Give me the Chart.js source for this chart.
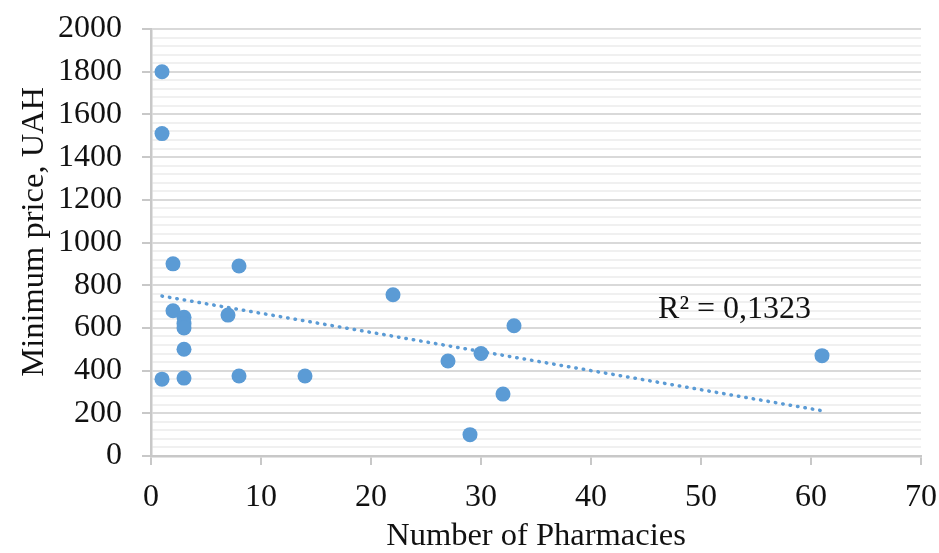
<!DOCTYPE html>
<html>
<head>
<meta charset="utf-8">
<script src="https://cdn.jsdelivr.net/npm/chart.js@4.4.0/dist/chart.umd.min.js"></script>
<style>
  html, body { margin: 0; padding: 0; background: #fff; }
  #grafico { display: block; }
</style>
</head>
<body>
<canvas id="grafico" width="939" height="553"></canvas>
<script>
// Datos: farmacias vs precio minimo
const farmacias = [1, 1, 1, 2, 2, 3, 3, 3, 3, 3, 7, 8, 8, 14, 22, 27, 29, 30, 32, 33, 61];
const precios = [1800, 1510, 360, 900, 680, 650, 620, 600, 500, 365, 660, 890, 375, 375, 755, 445, 100, 480, 290, 610, 470];

// Linea de tendencia (extremos)
const tendenciaX = [1, 61];
const tendenciaY = [749, 212];
const textoR2 = "R\u00B2 = 0,1323";
const tituloY = "Minimum price, UAH";

const ticksX = [0, 10, 20, 30, 40, 50, 60, 70];
const ticksY = [0, 200, 400, 600, 800, 1000, 1200, 1400, 1600, 1800, 2000];

const AZUL = '#5B9BD5';
const FUENTE = 'Liberation Serif, "Times New Roman", serif';

const puntos = farmacias.map((x, i) => ({ x: x, y: precios[i] }));
const tendencia = tendenciaX.map((x, i) => ({ x: x, y: tendenciaY[i] }));

// Etiqueta R² y titulo del eje Y
const textosExtra = {
  id: 'textosExtra',
  afterDatasetsDraw(chart) {
    const ctx = chart.ctx;
    const px = chart.scales.x.getPixelForValue(46.1);
    const py = chart.scales.y.getPixelForValue(646);
    ctx.save();
    ctx.font = '32px ' + FUENTE;
    ctx.fillStyle = '#111';
    ctx.textAlign = 'left';
    ctx.textBaseline = 'alphabetic';
    ctx.fillText(textoR2, px, py);
    ctx.restore();

    // titulo vertical, algo por encima del centro como en el original
    ctx.save();
    ctx.font = '32.5px ' + FUENTE;
    ctx.fillStyle = '#111';
    ctx.translate(34, chart.scales.y.getPixelForValue(1050));
    ctx.rotate(-Math.PI / 2);
    ctx.textAlign = 'center';
    ctx.textBaseline = 'middle';
    ctx.fillText(tituloY, 0, 0);
    ctx.restore();
  }
};

const ctx = document.getElementById('grafico').getContext('2d');

const chart = new Chart(ctx, {
  type: 'scatter',
  data: {
    datasets: [
      {
        label: 'Tendencia',
        data: tendencia,
        showLine: true,
        borderColor: AZUL,
        borderWidth: 3.5,
        borderDash: [0.5, 7],
        borderCapStyle: 'round',
        pointRadius: 0,
        fill: false,
        order: 0
      },
      {
        label: 'Precio minimo',
        data: puntos,
        backgroundColor: AZUL,
        borderWidth: 0,
        pointRadius: 7.5,
        pointHoverRadius: 7.5,
        order: 1
      }
    ]
  },
  options: {
    responsive: false,
    animation: false,
    devicePixelRatio: 1,
    layout: { autoPadding: false, padding: { top: 29, right: 18, left: 0, bottom: 0 } },
    plugins: {
      legend: { display: false },
      tooltip: { enabled: false }
    },
    scales: {
      x: {
        type: 'linear',
        min: 0,
        max: 70,
        afterBuildTicks: (scale) => { scale.ticks = ticksX.map(v => ({ value: v })); },
        afterFit: (scale) => {
          scale.height = 97;
          scale.paddingLeft = 0;
          scale.paddingRight = 0;
        },
        ticks: {
          color: '#111',
          padding: 13,
          font: { family: FUENTE, size: 32 }
        },
        grid: {
          drawOnChartArea: false,
          tickLength: 9,
          tickColor: '#c8c8c8',
          lineWidth: 2
        },
        border: { color: '#c8c8c8', width: 2.5 },
        title: {
          display: true,
          text: 'Number of Pharmacies',
          color: '#111',
          font: { family: FUENTE, size: 32.5 },
          padding: { top: 0, bottom: -3 }
        }
      },
      y: {
        type: 'linear',
        min: 0,
        max: 2000,
        ticks: {
          stepSize: 40,
          maxTicksLimit: 60,
          autoSkip: false,
          color: '#111',
          padding: 20,
          font: { family: FUENTE, size: 32 },
          callback: (v) => ticksY.includes(v) ? v : ''
        },
        afterFit: (scale) => {
          scale.width = 151;
          scale.paddingTop = 0;
          scale.paddingBottom = 0;
        },
        grid: {
          color: (c) => ticksY.includes(c.tick.value) ? '#d9d9d9' : '#f0f0f0',
          tickColor: (c) => ticksY.includes(c.tick.value) ? '#c8c8c8' : 'rgba(0,0,0,0)',
          lineWidth: 2,
          tickLength: 9
        },
        border: { color: '#c8c8c8', width: 2.5 }
      }
    }
  },
  plugins: [textosExtra]
});
</script>
</body>
</html>
